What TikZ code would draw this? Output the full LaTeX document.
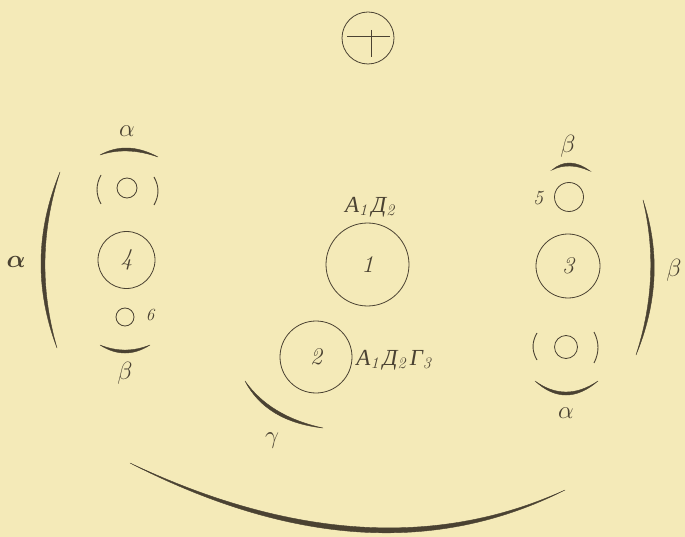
\documentclass[tikz,border=0pt]{standalone}
\usepackage{amsmath}
\usepackage{bm}
\usepackage{fontspec}
\newfontfamily\cyr{Liberation Serif}
\definecolor{bg}{HTML}{F4EAB8}
\definecolor{ink}{HTML}{4A4232}
\begin{document}
\begin{tikzpicture}[x=1pt,y=-1pt,
  ring/.style={circle, draw=ink, line width=0.8pt, inner sep=0pt},
  thin/.style={draw=ink, line width=0.9pt},
  crescent/.style={fill=ink, draw=ink, line width=0.4pt},
  num/.style={text=ink, font=\fontsize{24}{24}\selectfont\itshape},
  grk/.style={text=ink, font=\fontsize{26}{26}\selectfont},
  cyrl/.style={text=ink, font=\fontsize{23}{23}\selectfont\cyr\itshape, inner sep=0pt}]
\fill[bg] (0,0) rectangle (685,537);
\useasboundingbox (0,0) rectangle (685,537);

% top circle with cross
\node[ring, minimum width=49pt, minimum height=52pt] (top) at (368,38) {};
\coordinate (hl) at (347,36); \coordinate (hr) at (390,36);
\coordinate (vt) at (371,30); \coordinate (vb) at (371,57);
\draw[thin] (hl) -- (hr);
\draw[thin] (vt) -- (vb);

% main circles
\node[ring, minimum size=83pt, num] (c1) at (367.5,264.5) {1};
\node[ring, minimum size=72pt, num] (c2) at (316,357) {2};
\node[ring, minimum size=64pt, num] (c3) at (568,266) {3};
\node[ring, minimum size=57pt, num] (c4) at (126.5,260) {4};
\node[ring, minimum size=29pt] (c5) at (569,197) {};
\node[ring, minimum size=18pt] (c6) at (125,317) {};
\node[ring, minimum size=20pt] (cl) at (127,188) {};
\node[ring, minimum size=23pt] (cr) at (566,347) {};

% parentheses
\draw[thin] (101,175) .. controls (95.7,184.7) and (95.7,194.3) .. (101,204);
\draw[thin] (154,177) .. controls (159.3,186.3) and (159.3,195.7) .. (154,205);
\draw[thin] (537,333) .. controls (531.7,342) and (531.7,351) .. (537,360);
\draw[thin] (594,332) .. controls (599.3,342.3) and (599.3,352.7) .. (594,363);

% tapered arcs
\path[crescent] (60,172) .. controls (35.7,230.7) and (34.7,289.3) .. (57,348)
   .. controls (40,289.3) and (41,230.7) .. (60,172) -- cycle;
\path[crescent] (643,200) .. controls (660,251) and (657.7,302.7) .. (636,355)
   .. controls (653,302.7) and (655.3,251) .. (643,200) -- cycle;
\path[crescent] (130,463) .. controls (291.7,546) and (436.7,555) .. (565,490)
   .. controls (436.7,548.3) and (291.7,539.3) .. (130,463) -- cycle;
\path[crescent] (100,155) .. controls (118,145) and (137.3,145.7) .. (158,157)
   .. controls (137.3,149.7) and (118,149) .. (100,155) -- cycle;
\path[crescent] (100,345) .. controls (116.7,355.7) and (133.3,355.7) .. (150,345)
   .. controls (133.3,351.7) and (116.7,351.7) .. (100,345) -- cycle;
\path[crescent] (552,170) .. controls (563.3,160.3) and (576,160.7) .. (590,171)
   .. controls (576,164.7) and (563.3,164.3) .. (552,170) -- cycle;
\path[crescent] (535,381) .. controls (555.3,399.7) and (576.3,399.7) .. (598,381)
   .. controls (576.3,395.7) and (555.3,395.7) .. (535,381) -- cycle;
\path[crescent] (245,381) .. controls (259,408) and (285,423.7) .. (323,428)
   .. controls (287.7,420.3) and (261.7,404.7) .. (245,381) -- cycle;

% labels
\node[grk] (la1) at (127,131) {$\alpha$};
\node[grk] (lb1) at (125,373) {$\beta$};
\node[grk] (la0) at (16,262) {$\bm{\alpha}$};
\node[num, font=\fontsize{17}{17}\selectfont\itshape] (l6) at (150,315) {6};
\node[grk] (lb2) at (568,146) {$\beta$};
\node[num, font=\fontsize{20}{20}\selectfont\itshape] (l5) at (538,198) {5};
\node[grk] (lb3) at (674,270) {$\beta$};
\node[grk] (la2) at (566,413) {$\alpha$};
\node[grk] (lg) at (272,441) {$\gamma$};
\node[cyrl] (t1) at (370,207) {A$_{\mathit 1}$\,Д$_{\mathit 2}$};
\node[cyrl] (t2) at (394,360) {A$_{\mathit 1}$\,Д$_{\mathit 2}$\,Г$_{\mathit 3}$};
\end{tikzpicture}
\end{document}
